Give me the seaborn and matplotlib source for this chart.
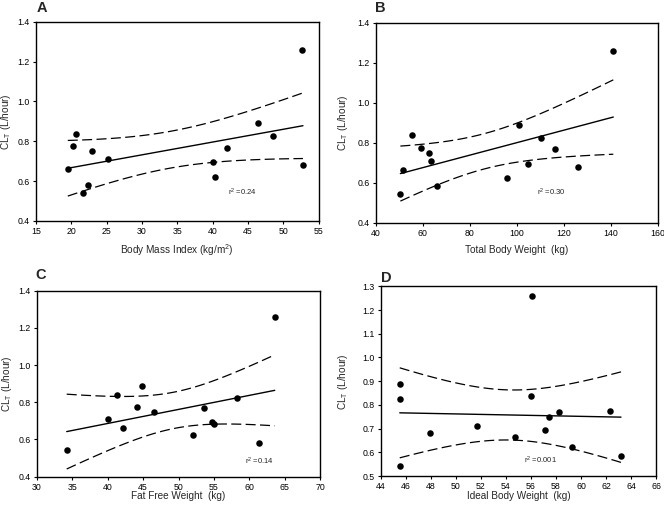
import numpy as np
import pandas as pd
import matplotlib
matplotlib.use("Agg")
import matplotlib.pyplot as plt
import seaborn as sns

# Data (same clearance values for all panels)
cl = [1.258, 0.890, 0.839, 0.824, 0.775, 0.768, 0.749, 0.712, 0.695, 0.681, 0.663, 0.623, 0.583, 0.543]
bmi = [52.7, 46.4, 20.6, 48.5, 20.3, 42.1, 22.9, 25.2, 40.1, 52.8, 19.5, 40.3, 22.4, 21.7]
tbw = [141.1, 100.8, 55.5, 110.3, 59.3, 116.1, 62.6, 63.6, 104.7, 126.2, 51.5, 96.0, 66.0, 50.5]
ffw = [63.6, 44.9, 41.3, 58.2, 44.1, 53.6, 46.5, 40.0, 54.8, 55.0, 42.2, 52.1, 61.4, 34.2]
ibw = [56.1, 45.5, 56.0, 45.5, 62.3, 58.2, 57.4, 51.7, 57.1, 47.9, 54.7, 59.3, 63.2, 45.5]

panel_letters = ["A", "B", "C", "D"]
x_labels = ["Body Mass Index (kg/m$^2$)", "Total Body Weight  (kg)",
            "Fat Free Weight  (kg)", "Ideal Body Weight  (kg)"]
r2_labels = ["r$^2$ =0.24", "r$^2$ =0.30", "r$^2$ =0.14", "r$^2$ =0.001"]
y_label = "CL$_T$ (L/hour)"

sns.set_theme(style="ticks")
plt.rcParams['font.family'] = ['Liberation Sans', 'DejaVu Sans']
plt.rcParams['mathtext.fontset'] = 'custom'
plt.rcParams['mathtext.rm'] = 'Liberation Sans'
plt.rcParams['mathtext.it'] = 'Liberation Sans'

fig = plt.figure(figsize=(6.64, 5.08), dpi=100)
W, H = 664.0, 508.0

def ax_at(l, r, t, b):
    return fig.add_axes([l / W, 1 - b / H, (r - l) / W, (b - t) / H])

boxes = [(36, 318.5, 21.7, 221), (375.7, 657.7, 22.7, 223),
         (37, 320, 290.7, 476.7), (381, 656, 286.3, 476)]
axes = [ax_at(*b) for b in boxes]

xs = [bmi, tbw, ffw, ibw]
xlims = [(15, 55), (40, 160), (30, 70), (44, 66)]
xticks = [np.arange(15, 56, 5), np.arange(40, 161, 20), np.arange(30, 71, 5), np.arange(44, 67, 2)]
ylims = [(0.4, 1.4), (0.4, 1.4), (0.4, 1.4), (0.5, 1.3)]
yticks = [np.arange(0.4, 1.41, 0.2), np.arange(0.4, 1.41, 0.2), np.arange(0.4, 1.41, 0.2),
          np.arange(0.5, 1.31, 0.1)]
r2_pos = [(228, 192), (537, 192), (245, 461), (524, 460)]
letter_pos = [(37, 12), (375, 12), (35, 279), (381, 282)]
ylabel_x = [6, 343, 7, 343]          # pixel centre of y-label
xlabel_y = [250, 250, 496, 496]      # pixel centre of x-label

for i, ax in enumerate(axes):
    l, r, t, b = boxes[i]
    df = pd.DataFrame({"x": xs[i], "y": cl})
    sns.regplot(data=df, x="x", y="y", ax=ax, ci=None, scatter=False,
                line_kws=dict(color="black", lw=1.0))
    # 95% confidence band for the mean regression line
    x = np.asarray(xs[i]); y = np.asarray(cl); n = len(x)
    b1, b0 = np.polyfit(x, y, 1)
    resid = y - (b0 + b1 * x)
    s = np.sqrt(np.sum(resid ** 2) / (n - 2))
    xg = np.linspace(x.min(), x.max(), 100)
    tval = 2.179  # t(0.975, df=12)
    se = s * np.sqrt(1 / n + (xg - x.mean()) ** 2 / np.sum((x - x.mean()) ** 2))
    yf = b0 + b1 * xg
    for sgn in (1, -1):
        ax.plot(xg, yf + sgn * tval * se, color="black", lw=0.9, dashes=(8, 3.5))
    sns.scatterplot(data=df, x="x", y="y", ax=ax, color="black", s=22,
                    edgecolor="black", linewidth=0, zorder=5)
    ax.set_xlim(*xlims[i]); ax.set_ylim(*ylims[i])
    ax.set_xticks(xticks[i])
    ax.set_xticklabels([str(v) for v in xticks[i]])
    ax.set_yticks(yticks[i])
    ax.set_yticklabels([f"{v:.1f}" for v in yticks[i]])
    ax.tick_params(labelsize=6.3, length=2.5, width=0.8, pad=2, colors="black")
    ax.set_xlabel(x_labels[i], fontsize=7.2, va="center")
    ax.set_ylabel(y_label, fontsize=7.2, va="center")
    ax.yaxis.set_label_coords((ylabel_x[i] - l) / (r - l), 0.5)
    ax.xaxis.set_label_coords(0.5, (b - xlabel_y[i]) / (b - t))
    for sp in ax.spines.values():
        sp.set_visible(True); sp.set_linewidth(1.0); sp.set_color("black")
    fig.text(r2_pos[i][0] / W, 1 - r2_pos[i][1] / H, r2_labels[i], fontsize=5.5,
             va="center", ha="left")
    fig.text(letter_pos[i][0] / W, 1 - letter_pos[i][1] / H, panel_letters[i],
             fontsize=10.5, fontweight="bold", va="baseline", ha="left")

fig.savefig("out.png", dpi=100)
